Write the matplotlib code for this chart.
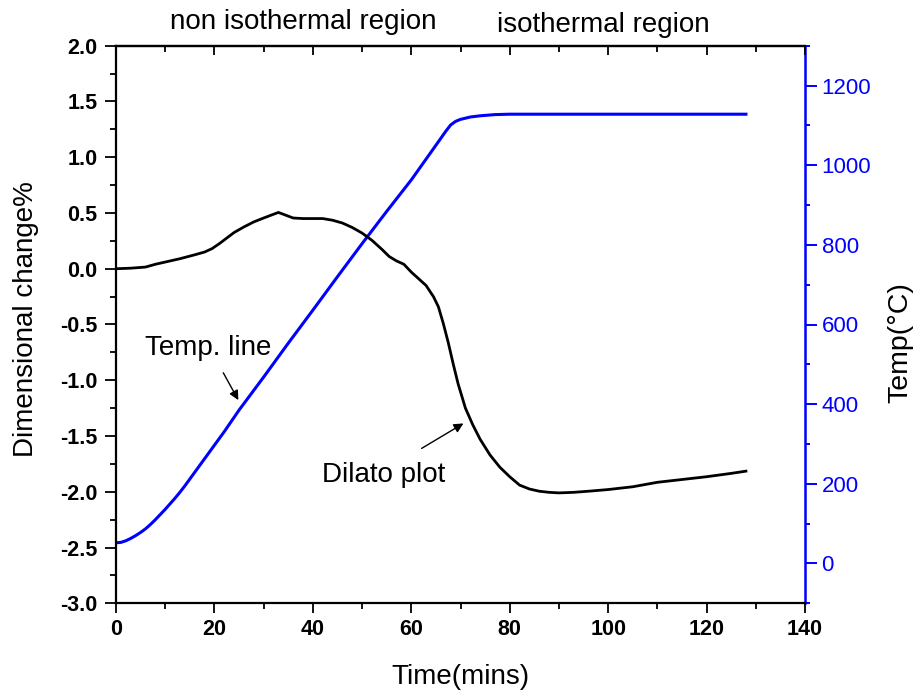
import matplotlib
matplotlib.use("Agg")
import matplotlib.pyplot as plt
from matplotlib.ticker import MultipleLocator

plt.rcParams['font.family'] = ['Liberation Sans', 'DejaVu Sans']

# Dilatometry curve (dimensional change %) vs time (mins)
dil_time = [0, 3, 6, 8, 10, 13, 16, 18, 19.5, 21, 22.5, 24, 26, 28, 30, 31.5, 33,
            34.5, 36, 38, 42, 44, 46, 48, 50, 52, 54, 55.5, 57, 58.5, 60, 61.5,
            63, 64.5, 65.5, 66.5, 67.5, 68.5, 69.5, 71, 72.5, 74, 76, 78, 80,
            82, 84, 86, 88, 90, 93, 96, 100, 105, 110, 115, 120, 125, 128]
dil_change = [0.0, 0.005, 0.015, 0.04, 0.06, 0.09, 0.125, 0.15, 0.18, 0.225,
              0.275, 0.325, 0.375, 0.42, 0.455, 0.48, 0.505, 0.48, 0.455, 0.45,
              0.45, 0.435, 0.41, 0.37, 0.32, 0.255, 0.175, 0.11, 0.07, 0.04,
              -0.03, -0.09, -0.15, -0.25, -0.34, -0.49, -0.66, -0.85, -1.03,
              -1.25, -1.40, -1.53, -1.67, -1.78, -1.865, -1.94, -1.975, -1.995,
              -2.005, -2.01, -2.005, -1.995, -1.98, -1.955, -1.915, -1.89,
              -1.865, -1.835, -1.815]

# Temperature curve (°C) vs time (mins)
temp_time = [0, 1, 2, 3, 4, 5, 6, 7, 8, 9, 10, 11, 12, 13, 14, 15, 16, 17, 18,
             19, 20, 22, 25, 30, 35, 40, 45, 50, 55, 60, 65, 67, 68, 69, 70, 71,
             72, 74, 77, 80, 90, 100, 110, 120, 128]
temp_values = [52, 53, 57, 63, 70, 78, 87, 98, 110, 123, 136, 150, 164, 179, 195,
               212, 229, 246, 263, 280, 297, 331, 385, 468, 553, 636, 720, 803,
               884, 963, 1050, 1085, 1101, 1110, 1115, 1118, 1121, 1124, 1127,
               1128, 1128, 1128, 1128, 1128, 1128]

left_ticks = [2.0, 1.5, 1.0, 0.5, 0.0, -0.5, -1.0, -1.5, -2.0, -2.5, -3.0]
right_ticks = [0, 200, 400, 600, 800, 1000, 1200]
x_ticks = [0, 20, 40, 60, 80, 100, 120, 140]

fig = plt.figure(figsize=(9.21, 6.95), dpi=100)
ax = fig.add_axes([116/921, 1-603.3/695, 689/921, (603.3-45.7)/695])
ax2 = ax.twinx()

ax.plot(dil_time, dil_change, color='black', lw=2.0, zorder=3)
ax2.plot(temp_time, temp_values, color='#0000ff', lw=2.2)
ax.set_zorder(ax2.get_zorder() + 1)
ax.patch.set_visible(False)

ax.set_xlim(0, 140)
ax.set_ylim(-3.0, 2.0)
ax2.set_ylim(-100, 1300)

ax.set_xticks(x_ticks)
ax.set_yticks(left_ticks)
ax.set_yticklabels([f"{v:.1f}" for v in left_ticks])
ax.xaxis.set_minor_locator(MultipleLocator(10))
ax.yaxis.set_minor_locator(MultipleLocator(0.25))
ax2.set_yticks(right_ticks)
ax2.yaxis.set_minor_locator(MultipleLocator(100))

for s in ['left', 'bottom', 'top']:
    ax.spines[s].set_linewidth(1.6)
    ax.spines[s].set_color('black')
ax.spines['right'].set_visible(False)
ax2.spines['right'].set_color('#0000ff')
ax2.spines['right'].set_linewidth(1.8)
for s in ['left', 'bottom', 'top']:
    ax2.spines[s].set_visible(False)

ax.tick_params(axis='x', which='both', direction='out', top=False, bottom=True)
ax.tick_params(axis='x', which='major', length=7.5, width=1.3, pad=4,
               labelsize=15.5)
ax.tick_params(axis='x', which='minor', length=4.3, width=1.3)
ax.tick_params(axis='y', which='major', direction='out', length=8, width=1.3,
               pad=5.5, labelsize=15.5)
ax.tick_params(axis='y', which='minor', direction='out', length=4.3, width=1.3)
for lab in ax.get_xticklabels() + ax.get_yticklabels():
    lab.set_fontweight('bold')

# top mirrored ticks pointing inward
axt = ax.secondary_xaxis('top')
axt.set_xticks(x_ticks)
axt.xaxis.set_minor_locator(MultipleLocator(10))
axt.tick_params(axis='x', which='major', direction='in', length=6.8, width=1.3,
                labeltop=False)
axt.tick_params(axis='x', which='minor', direction='in', length=4.0, width=1.3)
axt.spines['top'].set_linewidth(1.6)

ax2.tick_params(axis='y', which='major', direction='out', length=8.4, width=1.4,
                colors='#0000ff', labelsize=16, pad=3.5)
ax2.tick_params(axis='y', which='minor', direction='out', length=3.6, width=1.4,
                colors='#0000ff')

ax.set_xlabel('Time(mins)', fontsize=20, labelpad=17)
ax.set_ylabel('Dimensional change%', fontsize=20, labelpad=15)
ax.yaxis.label.set_y(0.51)
ax2.set_ylabel('Temp(\u00b0C)', fontsize=20.5, labelpad=12, color='black')
ax2.yaxis.label.set_y(0.467)

fig.text(303.5/921, 1-29.3/695, 'non isothermal region', fontsize=20,
         ha='center', va='baseline')
fig.text(603.5/921, 1-31.7/695, 'isothermal region', fontsize=20,
         ha='center', va='baseline')

ax.text(18.7, -0.774, 'Temp. line', fontsize=20, ha='center', va='baseline')
ax.annotate('', xy=(24.86, -1.178), xytext=(21.8, -0.933),
            arrowprops=dict(arrowstyle='-|>', color='black', lw=1.0,
                            mutation_scale=14, shrinkA=0, shrinkB=0))
ax.text(54.3, -1.91, 'Dilato plot', fontsize=20, ha='center', va='baseline')
ax.annotate('', xy=(70.6, -1.387), xytext=(62.1, -1.611),
            arrowprops=dict(arrowstyle='-|>', color='black', lw=1.0,
                            mutation_scale=14, shrinkA=0, shrinkB=0))

fig.savefig('out.png', dpi=100)
